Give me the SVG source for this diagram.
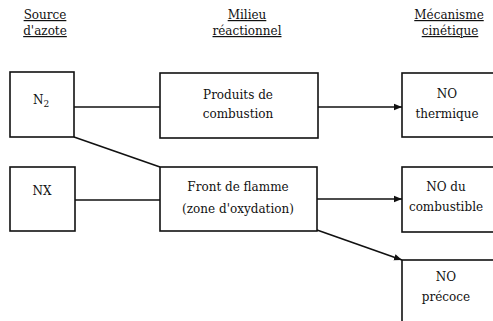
<svg xmlns="http://www.w3.org/2000/svg" width="493" height="321" viewBox="0 0 493 321">
<defs>
<style>
text{font-family:'DejaVu Serif',serif;font-size:12px;fill:#111;text-anchor:middle}
.h{text-decoration:underline}
.box{fill:#fff;stroke:#111;stroke-width:1.6}
.ln{fill:none;stroke:#111;stroke-width:1.6}
</style>
<marker id="arr" viewBox="0 0 10 10" refX="10" refY="5" markerWidth="5" markerHeight="5" orient="auto" markerUnits="strokeWidth">
<path d="M0,1 L10,5 L0,9 z" fill="#111"/>
</marker>
</defs>
<rect width="493" height="321" fill="#fff"/>
<g id="headers">
<text class="h" x="45" y="19">Source</text>
<text class="h" x="45" y="35">d'azote</text>
<text class="h" x="247" y="19">Milieu</text>
<text class="h" x="247" y="35">réactionnel</text>
<text class="h" x="449" y="19">Mécanisme</text>
<text class="h" x="450" y="35">cinétique</text>
</g>
<g id="connectors">
<line class="ln" x1="74" y1="107" x2="160" y2="107"/>
<line class="ln" x1="318" y1="107" x2="402" y2="107" marker-end="url(#arr)"/>
<line class="ln" x1="74" y1="137" x2="160" y2="167"/>
<line class="ln" x1="75" y1="200" x2="160" y2="200"/>
<line class="ln" x1="317" y1="199" x2="402" y2="199" marker-end="url(#arr)"/>
<line class="ln" x1="317" y1="230" x2="402" y2="260" marker-end="url(#arr)"/>
</g>
<g id="n2">
<rect class="box" x="10" y="72" width="64" height="65"/>
<text x="41" y="104">N<tspan font-size="9" dy="3">2</tspan></text>
</g>
<g id="nx">
<rect class="box" x="10" y="167" width="65" height="64"/>
<text x="42" y="195">NX</text>
</g>
<g id="produits">
<rect class="box" x="160" y="73" width="158" height="65"/>
<text x="238" y="99">Produits de</text>
<text x="238" y="118">combustion</text>
</g>
<g id="front">
<rect class="box" x="160" y="167" width="157" height="64"/>
<text x="238" y="191">Front de flamme</text>
<text x="238" y="213">(zone d'oxydation)</text>
</g>
<g id="thermique">
<rect class="box" x="402" y="73" width="100" height="64"/>
<text x="447" y="98">NO</text>
<text x="447" y="118">thermique</text>
</g>
<g id="combustible">
<rect class="box" x="402" y="167" width="100" height="65"/>
<text x="446" y="191">NO du</text>
<text x="446" y="211">combustible</text>
</g>
<g id="precoce">
<rect class="box" x="402" y="260" width="100" height="70"/>
<text x="446" y="281">NO</text>
<text x="446" y="301">précoce</text>
</g>
</svg>
